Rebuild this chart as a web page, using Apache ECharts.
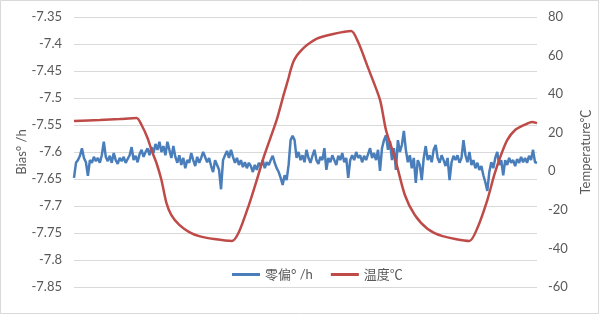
<!DOCTYPE html>
<html>
<head>
<meta charset="utf-8">
<script src="https://cdn.jsdelivr.net/npm/echarts@6/dist/echarts.min.js"></script>
<style>
html,body{margin:0;padding:0;background:#fff;}
#c{width:600px;height:315px;}
</style>
</head>
<body>
<div id="c"></div>
<script>
// Blue series: bias (°/h), one sample per index
var biasValues = [
-7.648,-7.620,-7.615,-7.607,-7.593,-7.611,-7.619,-7.644,-7.615,-7.620,
-7.609,-7.617,-7.611,-7.620,-7.606,-7.581,-7.609,-7.617,-7.607,-7.620,
-7.602,-7.615,-7.622,-7.611,-7.617,-7.609,-7.620,-7.613,-7.606,-7.591,
-7.615,-7.607,-7.619,-7.604,-7.596,-7.609,-7.600,-7.593,-7.606,-7.591,
-7.602,-7.585,-7.596,-7.581,-7.600,-7.589,-7.606,-7.581,-7.596,-7.611,
-7.589,-7.609,-7.620,-7.606,-7.624,-7.611,-7.630,-7.615,-7.620,-7.602,
-7.615,-7.626,-7.609,-7.620,-7.611,-7.600,-7.598,-7.619,-7.611,-7.626,
-7.637,-7.615,-7.624,-7.633,-7.669,-7.615,-7.606,-7.598,-7.611,-7.596,
-7.609,-7.620,-7.611,-7.624,-7.615,-7.628,-7.619,-7.630,-7.620,-7.626,
-7.637,-7.624,-7.633,-7.620,-7.626,-7.615,-7.630,-7.619,-7.624,-7.615,
-7.607,-7.620,-7.630,-7.637,-7.648,-7.661,-7.643,-7.652,-7.624,-7.578,
-7.570,-7.578,-7.611,-7.600,-7.615,-7.606,-7.619,-7.596,-7.611,-7.620,
-7.607,-7.596,-7.615,-7.622,-7.609,-7.615,-7.593,-7.633,-7.611,-7.619,
-7.606,-7.615,-7.624,-7.607,-7.615,-7.602,-7.619,-7.611,-7.648,-7.615,
-7.606,-7.615,-7.600,-7.611,-7.606,-7.619,-7.607,-7.615,-7.604,-7.593,
-7.611,-7.602,-7.615,-7.596,-7.635,-7.593,-7.578,-7.569,-7.596,-7.580,
-7.615,-7.593,-7.633,-7.578,-7.600,-7.587,-7.561,-7.596,-7.619,-7.606,
-7.630,-7.611,-7.657,-7.615,-7.624,-7.652,-7.611,-7.589,-7.615,-7.606,
-7.619,-7.596,-7.587,-7.611,-7.620,-7.606,-7.615,-7.626,-7.611,-7.652,
-7.619,-7.607,-7.615,-7.606,-7.620,-7.611,-7.578,-7.606,-7.619,-7.600,
-7.624,-7.615,-7.630,-7.620,-7.633,-7.626,-7.643,-7.656,-7.672,-7.637,
-7.619,-7.630,-7.611,-7.600,-7.624,-7.615,-7.643,-7.615,-7.624,-7.611,
-7.620,-7.615,-7.626,-7.613,-7.620,-7.609,-7.619,-7.611,-7.620,-7.607,
-7.615,-7.596,-7.619,-7.620
];

// Red series: temperature (℃), sampled at sample positions
var tempPositions = [0,13,23,31.5,34,37,39,41.5,44,46.5,49,53,58,63,70.5,79.5,83,88,92,95.5,102,105.5,108,109,110.5,112,114,116,119,123,130.5,139.5,143,148,154,157,161.5,166.5,171.5,178,185.5,199,203,208,211.5,214.5,218,222,226.5,230.5,233];
var tempValues = [26.1,26.6,27.1,27.6,24.0,17.3,11.0,4.3,-4.5,-16.4,-22.7,-27.8,-31.5,-33.6,-35.1,-36.1,-31.5,-17.5,-4.5,7.4,26.6,39.6,48.5,52.5,57.0,59.8,62.3,64.4,66.8,69.1,71.2,72.7,67.0,53.6,37.0,21.4,6.9,-12.3,-22.7,-29.9,-33.6,-36.1,-29.4,-14.9,-1.9,7.4,16.2,21.4,24.0,25.6,25.0];

var seriesNames = ['零偏° /h', '温度℃'];
var leftAxisName = 'Bias° /h';
var rightAxisName = 'Temperature℃';

var biasData = biasValues.map(function(v, i){ return [i, v]; });
var tempData = tempPositions.map(function(p, i){ return [p, tempValues[i]]; });

var FONT = "Lato, 'Noto Sans CJK SC', sans-serif";
var chart = echarts.init(document.getElementById('c'), null, {renderer:'canvas'});
chart.setOption({
  animation: false,
  backgroundColor: '#ffffff',
  textStyle: {fontFamily: FONT},
  graphic: [{
    type: 'rect',
    shape: {x: 0.5, y: 0.5, width: 598, height: 313},
    style: {fill: 'none', stroke: '#D9D9D9', lineWidth: 1},
    silent: true, z: -1
  }],
  grid: {left: 74, right: 60, top: 17, bottom: 28},
  legend: {
    data: [
      {name: seriesNames[0], icon: 'rect'},
      {name: seriesNames[1], icon: 'rect'}
    ],
    left: 227, top: 263,
    itemWidth: 28, itemHeight: 3, itemGap: 18,
    textStyle: {color: '#595959', fontSize: 13, fontFamily: FONT}
  },
  xAxis: {type: 'value', min: 0, max: biasValues.length - 1, show: false},
  yAxis: [{
    type: 'value', position: 'left',
    min: -7.85, max: -7.35, interval: 0.05,
    axisLine: {show: false}, axisTick: {show: false},
    axisLabel: {color: '#595959', fontSize: 13, margin: 12, fontFamily: FONT,
      formatter: function(v){ return String(parseFloat(v.toFixed(2))); }},
    splitLine: {lineStyle: {color: '#D9D9D9', width: 1}},
    name: leftAxisName, nameLocation: 'middle', nameGap: 46, nameRotate: 90,
    nameMoveOverlap: false,
    nameTextStyle: {color: '#595959', fontSize: 13, fontFamily: FONT}
  }, {
    type: 'value', position: 'right',
    min: -60, max: 80, interval: 20,
    axisLine: {show: false}, axisTick: {show: false},
    axisLabel: {color: '#595959', fontSize: 13, margin: 11, fontFamily: FONT},
    splitLine: {show: false},
    name: rightAxisName, nameLocation: 'middle', nameGap: 42, nameRotate: 90,
    nameMoveOverlap: false,
    nameTextStyle: {color: '#595959', fontSize: 13, fontFamily: FONT}
  }],
  series: [{
    name: seriesNames[0], type: 'line', yAxisIndex: 0,
    data: biasData, showSymbol: false,
    lineStyle: {color: '#4A7EBB', width: 2.5}, itemStyle: {color: '#4A7EBB'}
  }, {
    name: seriesNames[1], type: 'line', yAxisIndex: 1,
    data: tempData, showSymbol: false, smooth: 0.25,
    lineStyle: {color: '#BE4B48', width: 2.5}, itemStyle: {color: '#BE4B48'}
  }]
});
</script>
</body>
</html>
